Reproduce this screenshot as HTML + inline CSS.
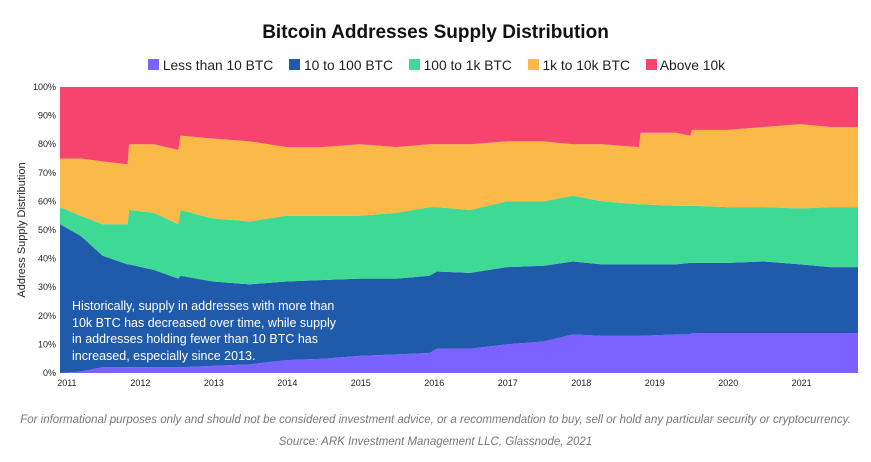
<!DOCTYPE html>
<html><head><meta charset="utf-8"><style>
body{margin:0;width:871px;height:462px;background:#fff;font-family:"Liberation Sans",sans-serif;overflow:hidden;position:relative}
.t{position:absolute;white-space:nowrap}
</style></head><body>
<div class="t" style="left:0;width:871px;text-align:center;top:22px;font-size:19px;font-weight:bold;color:#111">Bitcoin Addresses Supply Distribution</div>
<div class="t" style="left:148px;top:58px;font-size:13.8px;color:#222">
<span><span style="display:inline-block;width:11px;height:11px;background:#7b61ff"></span> Less than 10 BTC</span>
<span style="margin-left:12px"><span style="display:inline-block;width:11px;height:11px;background:#1f5aab"></span> 10 to 100 BTC</span>
<span style="margin-left:12px"><span style="display:inline-block;width:11px;height:11px;background:#3dd995"></span> 100 to 1k BTC</span>
<span style="margin-left:12px"><span style="display:inline-block;width:11px;height:11px;background:#fbb947"></span> 1k to 10k BTC</span>
<span style="margin-left:12px"><span style="display:inline-block;width:11px;height:11px;background:#f5446e"></span> Above 10k</span>
</div>
<svg id="c" width="871" height="462" style="position:absolute;left:0;top:0"></svg>
<div class="t" style="left:22px;top:230px;font-size:11px;color:#222;transform:translate(-50%,-50%) rotate(-90deg)">Address Supply Distribution</div>
<div class="t" style="left:72px;top:298px;font-size:12.5px;line-height:16.5px;color:#fff">Historically, supply in addresses with more than<br>10k BTC has decreased over time, while supply<br>in addresses holding fewer than 10 BTC has<br>increased, especially since 2013.</div>
<div class="t" style="left:0;width:871px;text-align:center;top:414px;font-size:11.5px;font-style:italic;color:#777">For informational purposes only and should not be considered investment advice, or a recommendation to buy, sell or hold any particular security or cryptocurrency.</div>
<div class="t" style="left:0;width:871px;text-align:center;top:436px;font-size:11.5px;font-style:italic;color:#777">Source: ARK Investment Management LLC, Glassnode, 2021</div>
<script>
const dates=[2010.92,2011.2,2011.5,2011.84,2011.86,2012.2,2012.53,2012.56,2013.0,2013.5,2014.0,2014.5,2015.0,2015.5,2015.95,2016.05,2016.5,2017.0,2017.5,2017.9,2018.3,2018.8,2018.82,2019.3,2019.5,2019.52,2020.0,2020.5,2021.0,2021.4,2021.78];
const lessThan10=[0,0.5,2,2,2,2,2,2,2.5,3,4.5,5,6,6.5,7,8.5,8.5,10,11,13.5,13,13,13,13.5,13.5,14,14,14,14,14,14];
const from10to100=[52,47.5,39,36,36,34,31,32,29.5,28,27.5,27.5,27,26.5,27,27,26.5,27,26.5,25.5,25,25,25,24.5,25,24.5,24.5,25,24,23,23];
const from100to1k=[6,7,11,14,19,20,19,23,22,22,23,22.5,22,23,24,22.5,22,23,22.5,23,22,21,21,20.5,20,20,19.5,19,19.5,21,21];
const from1kto10k=[17,20,22,21,23,24,26,26,28,28,24,24,25,23,22,22,23,21,21,18,20,20,25,25.5,24.5,26.5,27,28,29.5,28,28];
const above10k=[25,25,26,27,20,20,22,17,18,19,21,21,20,21,20,20,20,19,19,20,20,21,16,16,17,15,15,14,13,14,14];
const yTicks=[0,10,20,30,40,50,60,70,80,90,100];
const xTicks=[2011,2012,2013,2014,2015,2016,2017,2018,2019,2020,2021];
const series=[lessThan10,from10to100,from100to1k,from1kto10k,above10k];
const colors=['#7b61ff','#1f5aab','#3dd995','#fbb947','#f5446e'];
const names=['area-less-than-10','area-10-to-100','area-100-to-1k','area-1k-to-10k','area-above-10k'];
const X0=60,X1=858,Y0=373,Y1=87,D0=2010.92,D1=2021.78;
const x=d=>X0+(d-D0)/(D1-D0)*(X1-X0);
const y=v=>Y0-v/100*(Y0-Y1);
const svg=document.getElementById('c');const NS='http://www.w3.org/2000/svg';
let base=dates.map(()=>0);
series.forEach((s,i)=>{
 const top=base.map((b,j)=>b+s[j]);
 let d='M'+dates.map((t,j)=>x(t)+','+y(top[j])).join(' L');
 for(let j=dates.length-1;j>=0;j--)d+=' L'+x(dates[j])+','+y(base[j]);
 const p=document.createElementNS(NS,'path');p.setAttribute('d',d+'Z');p.setAttribute('fill',colors[i]);
 
 
 svg.appendChild(p);base=top;
});
yTicks.forEach(v=>{const t=document.createElementNS(NS,'text');t.setAttribute('x',56);t.setAttribute('y',y(v)+3);t.setAttribute('text-anchor','end');t.setAttribute('font-size','9');t.setAttribute('fill','#222');t.textContent=v+'%';
 
 
 svg.appendChild(t);});
xTicks.forEach(v=>{const t=document.createElementNS(NS,'text');t.setAttribute('x',x(v)+1);t.setAttribute('y',386);t.setAttribute('text-anchor','middle');t.setAttribute('font-size','9');t.setAttribute('fill','#222');t.textContent=v;
 
 
 svg.appendChild(t);});
</script>
</body></html>
